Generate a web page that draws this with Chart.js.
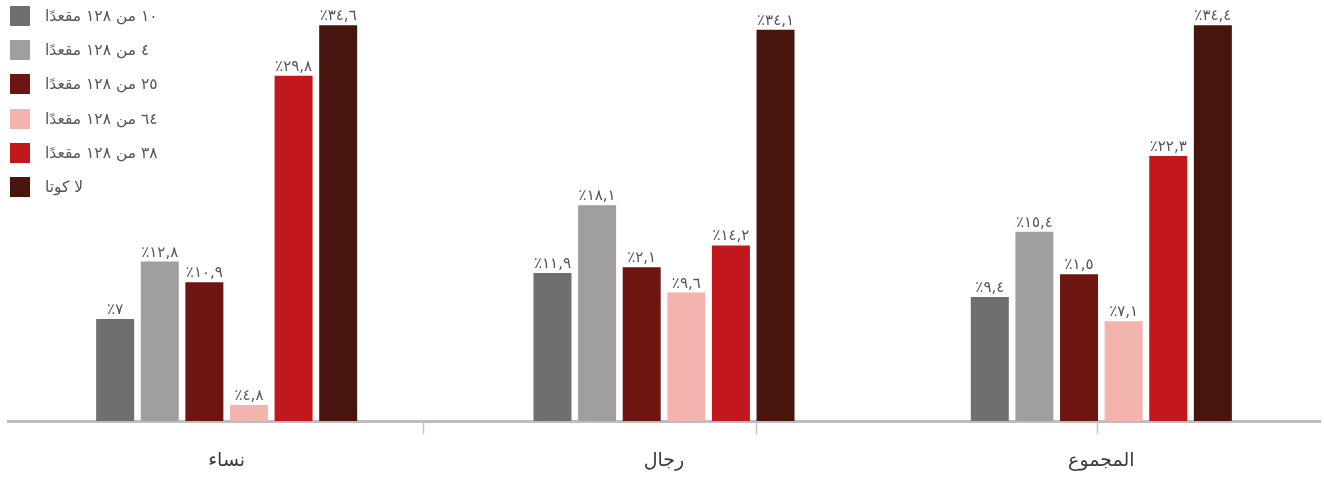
<!DOCTYPE html>
<html lang="ar">
<head>
<meta charset="utf-8">
<script src="https://cdn.jsdelivr.net/npm/chart.js"></script>
<style>
  body { margin: 0; background: #fff; }
  .wrap { position: relative; width: 1324px; height: 479px; }
  #legend { position: absolute; left: 10px; top: 6px; font-family: 'DejaVu Sans', sans-serif; font-size: 15.5px; color: #555; }
  #legend .item { display: flex; align-items: center; height: 20px; margin-bottom: 14.2px; }
  #legend .box { width: 20px; height: 20px; margin-right: 15px; }
</style>
</head>
<body>
<div class="wrap">
  <canvas id="chart" width="1324" height="479"></canvas>
  <div id="legend"></div>
</div>
<script>
// 카테고리 (왼쪽에서 오른쪽)
const categories = ['نساء', 'رجال', 'المجموع'];

// 시리즈 이름과 색상
const seriesNames = ['١٠ من ١٢٨ مقعدًا', '٤ من ١٢٨ مقعدًا', '٢٥ من ١٢٨ مقعدًا', '٦٤ من ١٢٨ مقعدًا', '٣٨ من ١٢٨ مقعدًا', 'لا كوتا'];
const seriesColors = ['#706f6d', '#a09e9f', '#6d1510', '#f4b4ae', '#c2171d', '#47150e'];

// 막대 높이 (그림에서 읽은 값, %)
const seats10 = [8.9, 12.9, 10.8];
const seats4 = [13.9, 18.8, 16.5];
const seats25 = [12.1, 13.4, 12.8];
const seats64 = [1.4, 11.2, 8.7];
const seats38 = [30.1, 15.3, 23.1];
const noQuota = [34.5, 34.1, 34.5];

// 막대 위에 표시되는 라벨
const labels10 = ['٪٧', '٪١١,٩', '٪٩,٤'];
const labels4 = ['٪١٢,٨', '٪١٨,١', '٪١٥,٤'];
const labels25 = ['٪١٠,٩', '٪٢,١', '٪١,٥'];
const labels64 = ['٪٤,٨', '٪٩,٦', '٪٧,١'];
const labels38 = ['٪٢٩,٨', '٪١٤,٢', '٪٢٢,٣'];
const labelsNoQuota = ['٪٣٤,٦', '٪٣٤,١', '٪٣٤,٤'];

const seriesValues = [seats10, seats4, seats25, seats64, seats38, noQuota];
const seriesLabels = [labels10, labels4, labels25, labels64, labels38, labelsNoQuota];

// x축 아래 작은 눈금 (카테고리 단위)
const axisTicks = [0.45, 1.21, 1.99];

const FONT = "'DejaVu Sans', sans-serif";

// 막대 위 값 라벨
const valueLabels = {
  id: 'valueLabels',
  afterDatasetsDraw(chart) {
    const ctx = chart.ctx;
    ctx.save();
    ctx.font = '15px ' + FONT;
    ctx.fillStyle = '#555';
    ctx.textAlign = 'center';
    ctx.textBaseline = 'alphabetic';
    ctx.direction = 'ltr';
    chart.data.datasets.forEach((ds, i) => {
      chart.getDatasetMeta(i).data.forEach((bar, j) => {
        ctx.fillText(ds.valueLabels[j], bar.x, bar.y - 5);
      });
    });
    ctx.restore();
  }
};

// x축 눈금 표시
const axisTickMarks = {
  id: 'axisTickMarks',
  afterDraw(chart) {
    const x = chart.scales.x;
    const ctx = chart.ctx;
    ctx.save();
    ctx.strokeStyle = '#c6c6c6';
    ctx.lineWidth = 1.5;
    axisTicks.forEach(v => {
      const px = Math.round(x.getPixelForValue(v)) + 0.5;
      ctx.beginPath();
      ctx.moveTo(px, x.top + 1);
      ctx.lineTo(px, x.top + 13);
      ctx.stroke();
    });
    ctx.restore();
  }
};

const chart = new Chart(document.getElementById('chart'), {
  type: 'bar',
  data: {
    labels: categories,
    datasets: seriesNames.map((name, i) => ({
      label: name,
      data: seriesValues[i],
      valueLabels: seriesLabels[i],
      backgroundColor: seriesColors[i],
      borderWidth: 0,
      categoryPercentage: 0.612,
      barPercentage: 0.852
    }))
  },
  options: {
    responsive: false,
    animation: false,
    layout: { padding: { left: 8, right: 4, top: 8, bottom: 0 } },
    scales: {
      x: {
        grid: { display: false, drawTicks: false },
        border: { display: true, color: '#bdbdbf', width: 3 },
        ticks: {
          padding: 29,
          color: '#3a3a3a',
          font: { family: FONT, size: 19 }
        },
        afterFit(scale) {
          scale.height = 58;
        }
      },
      y: {
        display: false,
        min: 0,
        max: 36
      }
    },
    plugins: {
      legend: { display: false },
      tooltip: { enabled: false }
    }
  },
  plugins: [valueLabels, axisTickMarks]
});

// HTML 범례
const legendEl = document.getElementById('legend');
chart.data.datasets.forEach(ds => {
  const item = document.createElement('div');
  item.className = 'item';
  const box = document.createElement('span');
  box.className = 'box';
  box.style.background = ds.backgroundColor;
  const text = document.createElement('span');
  text.textContent = ds.label;
  item.appendChild(box);
  item.appendChild(text);
  legendEl.appendChild(item);
});
</script>
</body>
</html>
